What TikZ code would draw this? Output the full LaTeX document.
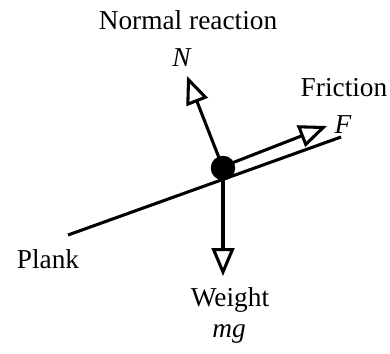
\documentclass[tikz,border=0pt]{standalone}
\usepackage{fontspec}
\setmainfont{Liberation Serif}
\usetikzlibrary{arrows.meta}

\begin{document}
\begin{tikzpicture}[x=0.75pt, y=-0.75pt, line width=2.3pt,
    every node/.style={inner sep=0pt, font=\fontsize{20.5}{24}\selectfont},
    force/.style={-{Triangle[open, length=21pt, width=17pt, line width=2.3pt]}}]
        \useasboundingbox (0,0) rectangle (390,354);
        % Define the nodes
        \node[draw, circle, fill=black, minimum size=16pt] (P) at (223,168) {};
        \coordinate (PL) at (68,235);
        \coordinate (PR) at (341,137);
        \coordinate (W0) at (223,180);
        \coordinate (W) at (223,276);
        \coordinate (N) at (187,76);
        \coordinate (F0) at (232,163);
        \coordinate (F) at (327,126);

        \node (normal) at (188,20) {Normal reaction};
        \node (Nlab) at (182,58) {\textit{N}};
        \node (friction) at (344,88) {Friction};
        \node (Flab) at (343,125) {\textit{F}};
        \node (plank) at (48,259) {Plank};
        \node (weight) at (230,300) {Weight};
        \node (mglab) at (229,334) {\textit{mg}};

        \draw (PL) -- (PR);
        \draw[force] (W0) -- (W);
        \draw[force] (P.center) -- (N);
        \draw[force] (F0) -- (F);
    \end{tikzpicture}
\end{document}
